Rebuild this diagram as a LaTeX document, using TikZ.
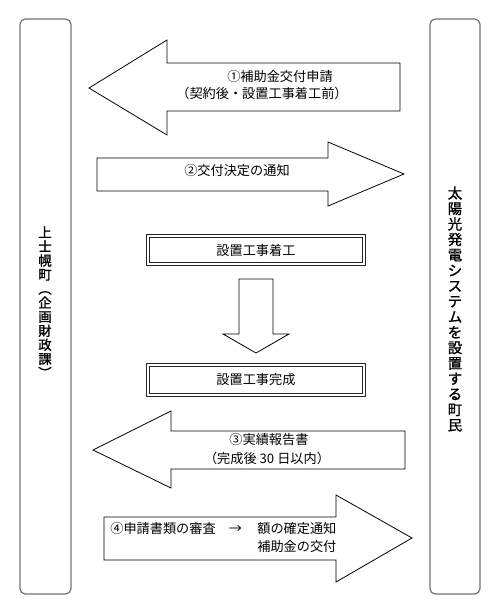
\documentclass[tikz,border=0pt]{standalone}
\usepackage{fontspec}
\usepackage{graphicx}
\newfontfamily\jp{Noto Sans CJK JP}
\newfontfamily\jpside[FakeBold=1.2]{Noto Sans CJK JP}
\usetikzlibrary{positioning}

\begin{document}
\begin{tikzpicture}[
  x=0.02cm, y=-0.02cm,
  font=\jp\fontsize{7.5}{10}\selectfont,
  bar/.style={draw=black!55, line width=0.7pt, rounded corners=3pt},
  blockarrow/.style={draw=black, line width=0.45pt, fill=white, line join=miter},
  stepbox/.style={
    draw=black!85, double=white, double distance=0.9pt, line width=0.45pt,
    minimum width=4.32cm, inner sep=0pt
  },
  txt/.style={inner sep=0pt},
  tate/.style={align=center, inner sep=0pt}
]
  \useasboundingbox (0,0) rectangle (500,610);

  % the two sides
  \draw[bar] (20,19) rectangle (71,594);
  \draw[bar] (430,19) rectangle (480,594);
  \node[tate, font=\jpside\fontsize{7.6}{8}\selectfont] (office) at (45,303)
    {上\\士\\幌\\町\\\rotatebox[origin=c]{-90}{（}\\企\\画\\財\\政\\課\\\rotatebox[origin=c]{-90}{）}};
  \node[tate, font=\jpside\fontsize{8.2}{8.8}\selectfont] (resident) at (455,309)
    {太\\陽\\光\\発\\電\\シ\\ス\\テ\\ム\\を\\設\\置\\す\\る\\町\\民};

  % 1: application
  \draw[blockarrow] (400,63) -- (167,63) -- (167,40) -- (89,88) -- (167,135) -- (167,111) -- (400,111) -- cycle;
  \node[txt] (apply) at (280,76) {①補助金交付申請};
  \node[txt] (applywhen) at (262,93) {（契約後・設置工事着工前）};

  % 2: decision
  \draw[blockarrow] (97,158) -- (328,158) -- (328,142) -- (404,174) -- (328,206) -- (328,191) -- (97,191) -- cycle;
  \node[txt] (decide) at (237,170) {②交付決定の通知};

  % construction
  \node[stepbox, minimum height=0.56cm] (start) at (256,250) {設置工事着工};
  \node[stepbox, minimum height=0.6cm] (done) at (256,380) {設置工事完成};
  \draw[blockarrow] (239,279) -- (273,279) -- (273,334) -- (289,334) -- (256,353) -- (223,334) -- (239,334) -- cycle;

  % 3: report
  \draw[blockarrow] (405,431) -- (171,431) -- (171,411) -- (93,450) -- (171,488) -- (171,469) -- (405,469) -- cycle;
  \node[txt] (report) at (269,440) {③実績報告書};
  \node[txt] (reportwhen) at (267,458) {（完成後 30 日以内）};

  % 4: review and payment
  \draw[blockarrow] (104,517) -- (336,517) -- (336,495) -- (412,538) -- (336,582) -- (336,560) -- (104,560) -- cycle;
  \node[txt, anchor=west] (review) at (110,528) {④申請書類の審査　→};
  \node[txt, anchor=west, align=left, font=\jp\fontsize{7.5}{10.8}\selectfont] (pay) at (257,537.5)
    {額の確定通知\\補助金の交付};
\end{tikzpicture}
\end{document}
